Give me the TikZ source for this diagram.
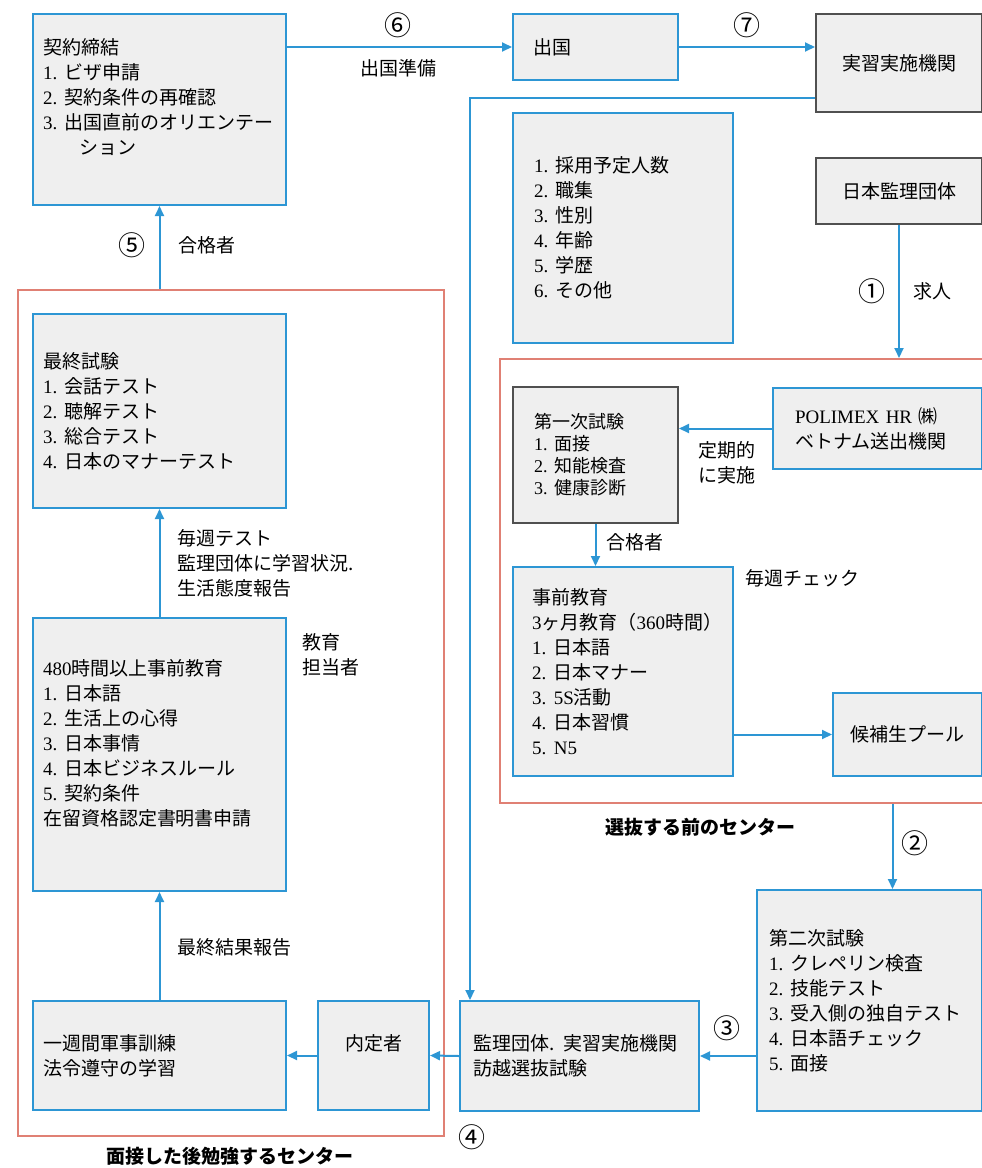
\documentclass[tikz,border=0pt]{standalone}
\usepackage{fontspec}
\setmainfont{Noto Sans CJK JP}
\newfontfamily\latinfont{Liberation Serif}
\usetikzlibrary{arrows.meta}

\definecolor{flowblue}{RGB}{45,150,212}
\definecolor{zonered}{RGB}{224,128,116}
\definecolor{boxgray}{RGB}{239,239,239}
\definecolor{boxdark}{RGB}{80,80,80}
\newcommand{\itm}[1]{{\latinfont #1.}\nobreak\hspace{0.4em}}
\newcommand{\lat}[1]{{\latinfont #1}}
\tikzset{box/.style={draw=flowblue, fill=boxgray, line width=2pt, anchor=north west, align=left, inner ysep=0pt, font=\fontsize{19}{25}\selectfont}}
\tikzset{dbox/.style={box, draw=boxdark}}
\tikzset{zone/.style={draw=zonered, line width=2pt, anchor=north west, inner sep=0pt}}
\tikzset{arr/.style={draw=flowblue, line width=2pt, -{Triangle[length=10pt,width=9pt]}}}
\tikzset{lbl/.style={font=\fontsize{19}{25}\selectfont, inner sep=0pt, align=left}}
\tikzset{num/.style={font=\fontsize{27}{27}\selectfont, inner sep=0pt}}
\tikzset{zonelbl/.style={font=\fontsize{19}{25}\selectfont\bfseries, inner sep=0pt}}

\begin{document}
\begin{tikzpicture}[x=1pt, y=-1pt]
        \useasboundingbox (0,0) rectangle (982,1168);

        % the two centres
        \node[zone, minimum width=426, minimum height=846] (zoneB) at (17,289) {};
        \node[zone, minimum width=484, minimum height=444] (zoneA) at (499,358) {};

        \node[box, text width=233, inner xsep=10pt, minimum height=191] (keiyaku) at (32,13) {契約締結\\ \itm{1}ビザ申請\\ \itm{2}契約条件の再確認\\ \itm{3}出国直前のオリエンテー\\ \hspace*{36pt}ション\\ ~};
        \node[box, text width=125, inner xsep=20pt, minimum height=66] (shukkoku) at (512,13) {出国};
        \node[dbox, align=center, text width=146, inner xsep=10pt, minimum height=98] (jisshu) at (815,13) {実習実施機関};
        \node[box, text width=178, inner xsep=21pt, minimum height=230] (yoken) at (512,112) {\itm{1}採用予定人数\\ \itm{2}職集\\ \itm{3}性別\\ \itm{4}年齢\\ \itm{5}学歴\\ \itm{6}その他};
        \node[dbox, align=center, text width=146, inner xsep=10pt, minimum height=66] (nihon) at (815,157) {日本監理団体};

        \node[box, text width=165, inner xsep=22pt, minimum height=81] (polimex) at (772,387) {\lat{POLIMEX HR}\ ㈱\\ ベトナム送出機関};
        \node[dbox, text width=123, inner xsep=21pt, minimum height=136, font=\fontsize{18}{22}\selectfont] (daiichi) at (512,386) {第一次試験\\ \itm{1}面接\\ \itm{2}知能検査\\ \itm{3}健康診断};
        \node[box, text width=182, inner xsep=19pt, minimum height=209] (jizen) at (512,566) {事前教育\\ \lat{3}ヶ月教育（\lat{360}時間）\\ \itm{1}日本語\\ \itm{2}日本マナー\\ \itm{3}\lat{5S}活動\\ \itm{4}日本習慣\\ \itm{5}\lat{N5}};
        \node[box, align=center, text width=129, inner xsep=10pt, minimum height=83] (kouho) at (832,692) {候補生プール};

        \node[box, text width=201, inner xsep=12pt, minimum height=221] (dainiji) at (756,889) {第二次試験\\ \itm{1}クレペリン検査\\ \itm{2}技能テスト\\ \itm{3}受入側の独自テスト\\ \itm{4}日本語チェック\\ \itm{5}面接};
        \node[box, text width=213, inner xsep=13pt, minimum height=110] (kanri) at (459,1000) {監理団体. 実習実施機関\\ 訪越選抜試験};
        \node[box, align=center, text width=91, inner xsep=10pt, minimum height=109] (naitei) at (317,1000) {内定者\\ ~};
        \node[box, text width=233, inner xsep=10pt, minimum height=109] (kunren) at (32,1000) {一週間軍事訓練\\ 法令遵守の学習};

        \node[box, text width=233, inner xsep=10pt, minimum height=194] (saishu) at (32,313) {最終試験\\ \itm{1}会話テスト\\ \itm{2}聴解テスト\\ \itm{3}総合テスト\\ \itm{4}日本のマナーテスト};
        \node[box, text width=233, inner xsep=10pt, minimum height=273] (kyoiku) at (32,617) {\lat{480}時間以上事前教育\\ \itm{1}日本語\\ \itm{2}生活上の心得\\ \itm{3}日本事情\\ \itm{4}日本ビジネスルール\\ \itm{5}契約条件\\ 在留資格認定書明書申請\\ ~};

        % labels
        \node[num] (n6) at (398,25) {⑥};
        \node[lbl] (lprep) at (398,68) {出国準備};
        \node[num] (n7) at (747,25) {⑦};
        \node[num] (n1) at (872,291) {①};
        \node[lbl] (ljob) at (932,291) {求人};
        \node[lbl] (lteiki) at (727,463) {定期的\\に実施};
        \node[lbl] (lpassA) at (635,542) {合格者};
        \node[lbl] (lcheck) at (802,578) {毎週チェック};
        \node[zonelbl] (zoneAlbl) at (700,827) {選抜する前のセンター};
        \node[num] (n2) at (915,843) {②};
        \node[num] (n3) at (727,1028) {③};
        \node[num] (n4) at (472,1137) {④};
        \node[zonelbl] (zoneBlbl) at (230,1156) {面接した後勉強するセンター};
        \node[num] (n5) at (132,245) {⑤};
        \node[lbl] (lpassB) at (207,245) {合格者};
        \node[lbl, anchor=west] (lweekly) at (177,563) {毎週テスト\\ 監理団体に学習状況.\\ 生活態度報告};
        \node[lbl, anchor=west] (ltutor) at (302,655) {教育\\ 担当者};
        \node[lbl, anchor=west] (lresult) at (177,947) {最終結果報告};

        \coordinate (c2) at ([xshift=23pt]dainiji.north);

        \draw [arr] (shukkoku.west -| keiyaku.east) -- (shukkoku.west);
        \draw [arr] (shukkoku.east) -- (jisshu.west |- shukkoku.east);
        \draw [arr] ([yshift=-35pt]jisshu.west) -| ([xshift=11pt]kanri.north west);
        \draw [arr] (nihon.south) -- (zoneA.north -| nihon.south);
        \draw [arr] (polimex.west) -- (daiichi.east |- polimex.west);
        \draw [arr] (daiichi.south) -- (jizen.north -| daiichi.south);
        \draw [arr] (jizen.east |- kouho.west) -- (kouho.west);
        \draw [arr] (zoneA.south -| c2) -- (c2);
        \draw [arr] (dainiji.west |- kanri.east) -- (kanri.east);
        \draw [arr] (kanri.west) -- (naitei.east);
        \draw [arr] (naitei.west) -- (kunren.east);
        \draw [arr] (kunren.north) -- (kyoiku.south);
        \draw [arr] (kyoiku.north) -- (saishu.south);
        \draw [arr] (zoneB.north -| keiyaku.south) -- (keiyaku.south);

    \end{tikzpicture}
\end{document}
